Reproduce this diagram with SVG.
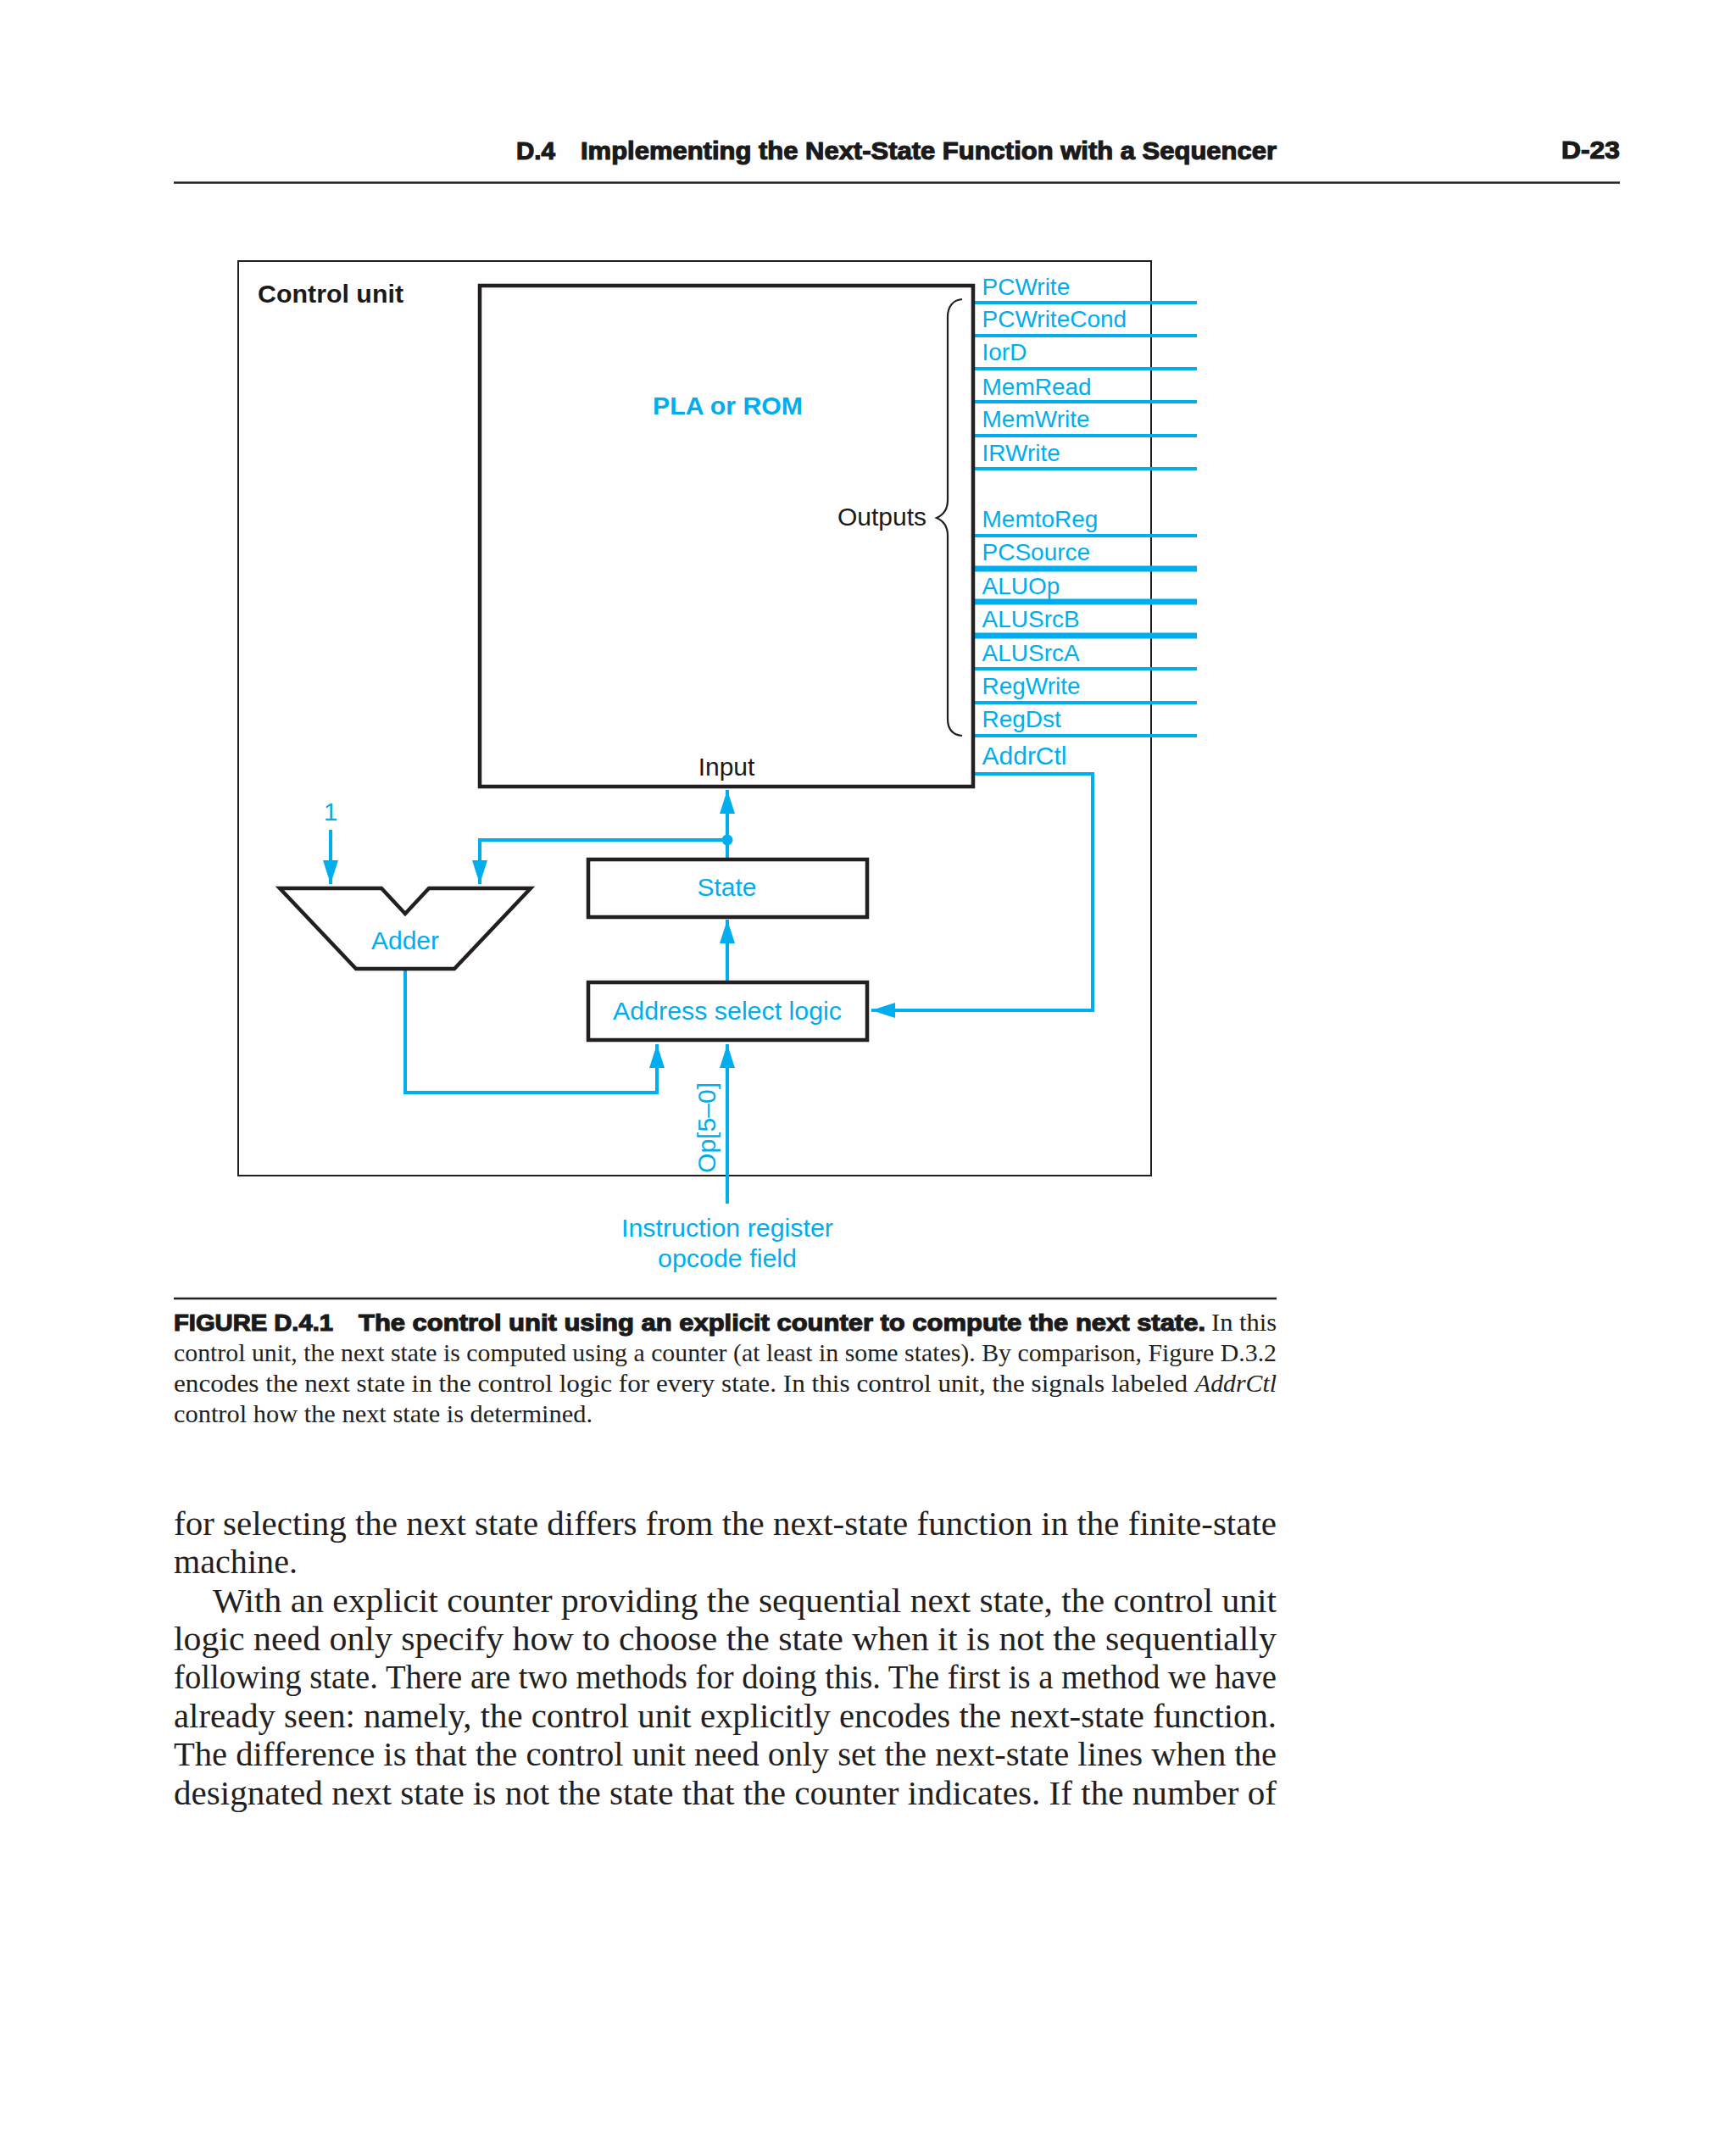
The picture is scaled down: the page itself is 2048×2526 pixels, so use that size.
<svg xmlns="http://www.w3.org/2000/svg" width="2048" height="2526" viewBox="0 0 2048 2526">
<defs>
<marker id="arrow" viewBox="0 0 28 18" refX="28" refY="9" markerWidth="28" markerHeight="18" markerUnits="userSpaceOnUse" orient="auto"><path d="M0 0L28 9L0 18z" fill="#00aeef"/></marker>
</defs>
<style>
text{font-family:"Liberation Sans",Arial,sans-serif}
.c{fill:#00aeef;font-size:30px}
.s{fill:#00aeef;font-size:28px}
.k{fill:#1a1a1a;font-size:30px}
.m{text-anchor:middle}
.b{font-weight:bold}
.box{fill:none;stroke:#231f20;stroke-width:4.5}
.w{fill:none;stroke:#00aeef;stroke-width:4}
.o{stroke:#00aeef;stroke-width:4}
.ok{stroke:#00aeef;stroke-width:7}
.hd{fill:#1a1a1a;font-size:30px;font-weight:bold;stroke:#1a1a1a;stroke-width:1.2}
.cap{font-family:"Liberation Serif",serif;font-size:30px;fill:#231f20}
.body{font-family:"Liberation Serif",serif;font-size:41px;fill:#231f20}
.rule{stroke:#231f20;stroke-width:2.5}
</style>
<rect width="2048" height="2526" fill="#fefefe"/>
<g id="page-header">
<text class="hd" x="609" y="188" textLength="46" lengthAdjust="spacingAndGlyphs">D.4</text>
<text class="hd" x="685" y="188" textLength="821" lengthAdjust="spacingAndGlyphs">Implementing the Next-State Function with a Sequencer</text>
<text class="hd" x="1842" y="187" textLength="69" lengthAdjust="spacingAndGlyphs">D-23</text>
<line class="rule" x1="205" y1="215.500" x2="1911" y2="215.500"/>
</g>
<g id="control-unit">
<rect x="281" y="308" width="1077" height="1079" fill="none" stroke="#231f20" stroke-width="2"/>
<text class="k b" x="304" y="357" textLength="172" lengthAdjust="spacingAndGlyphs">Control unit</text>
</g>
<g id="connectors">
<path class="w" d="M858 1013V932" marker-end="url(#arrow)"/>
<path class="w" d="M858 991H566V1043" marker-end="url(#arrow)"/>
<circle cx="858" cy="991" r="6.500" fill="#00aeef"/>
<path class="w" d="M390 979V1043" marker-end="url(#arrow)"/>
<path class="w" d="M858 1158V1085" marker-end="url(#arrow)"/>
<path class="w" d="M478 1143V1289H775V1232" marker-end="url(#arrow)"/>
<path class="w" d="M858 1420V1232" marker-end="url(#arrow)"/>
<path class="w" d="M1150 913H1289V1192H1028" marker-end="url(#arrow)"/>
<line class="o" x1="1150" y1="357" x2="1412" y2="357"/>
<line class="o" x1="1150" y1="396" x2="1412" y2="396"/>
<line class="o" x1="1150" y1="435" x2="1412" y2="435"/>
<line class="o" x1="1150" y1="474" x2="1412" y2="474"/>
<line class="o" x1="1150" y1="514" x2="1412" y2="514"/>
<line class="o" x1="1150" y1="553" x2="1412" y2="553"/>
<line class="o" x1="1150" y1="632" x2="1412" y2="632"/>
<line class="ok" x1="1150" y1="671" x2="1412" y2="671"/>
<line class="ok" x1="1150" y1="710" x2="1412" y2="710"/>
<line class="ok" x1="1150" y1="750" x2="1412" y2="750"/>
<line class="o" x1="1150" y1="789" x2="1412" y2="789"/>
<line class="o" x1="1150" y1="829" x2="1412" y2="829"/>
<line class="o" x1="1150" y1="868" x2="1412" y2="868"/>
</g>
<g id="pla-rom">
<rect class="box" x="566" y="337" width="582" height="591"/>
<text class="c b m" x="858.500" y="489" textLength="177" lengthAdjust="spacingAndGlyphs">PLA or ROM</text>
<text class="k m" x="857" y="915">Input</text>
<text class="k" x="988" y="620">Outputs</text>
<path d="M1135 353C1124 354 1118 362 1118 374V590C1118 600 1114 607 1105 611C1114 615 1118 622 1118 632V848C1118 860 1124 867 1135 868" fill="none" stroke="#231f20" stroke-width="2.200"/>
</g>
<g id="output-labels">
<text class="s" x="1158.500" y="348">PCWrite</text>
<text class="s" x="1158.500" y="386">PCWriteCond</text>
<text class="s" x="1158.500" y="425">IorD</text>
<text class="s" x="1158.500" y="466">MemRead</text>
<text class="s" x="1158.500" y="504">MemWrite</text>
<text class="s" x="1158.500" y="544">IRWrite</text>
<text class="s" x="1158.500" y="622">MemtoReg</text>
<text class="s" x="1158.500" y="661">PCSource</text>
<text class="s" x="1158.500" y="701">ALUOp</text>
<text class="s" x="1158.500" y="740">ALUSrcB</text>
<text class="s" x="1158.500" y="780">ALUSrcA</text>
<text class="s" x="1158.500" y="819">RegWrite</text>
<text class="s" x="1158.500" y="858">RegDst</text>
<text class="c" x="1158.500" y="902">AddrCtl</text>
</g>
<g id="state">
<rect class="box" x="694" y="1014" width="329" height="68"/>
<text class="c m" x="857.500" y="1057">State</text>
</g>
<g id="address-select">
<rect class="box" x="694" y="1159" width="329" height="68"/>
<text class="c m" x="858" y="1203" textLength="270" lengthAdjust="spacingAndGlyphs">Address select logic</text>
</g>
<g id="adder">
<path class="box" d="M330 1048H450L478 1078L506 1048H626L536 1143H420Z"/>
<text class="c m" x="478" y="1120">Adder</text>
</g>
<g id="signal-labels">
<text class="c m" x="390" y="968">1</text>
<text class="c" transform="translate(844 1384) rotate(-90)" textLength="107" lengthAdjust="spacingAndGlyphs">Op[5–0]</text>
<text class="c m" x="858" y="1459" textLength="250" lengthAdjust="spacingAndGlyphs">Instruction register</text>
<text class="c m" x="858" y="1495" textLength="164" lengthAdjust="spacingAndGlyphs">opcode field</text>
</g>
<g id="caption">
<line class="rule" x1="205" y1="1532" x2="1506" y2="1532"/>
<text class="hd" style="font-size:28px" x="205" y="1570" textLength="188" lengthAdjust="spacingAndGlyphs">FIGURE D.4.1</text>
<text class="hd" style="font-size:28px" x="423" y="1570" textLength="999" lengthAdjust="spacingAndGlyphs">The control unit using an explicit counter to compute the next state.</text>
<text class="cap" x="1429" y="1570" textLength="77" lengthAdjust="spacingAndGlyphs">In this</text>
<text class="cap" x="205" y="1606" textLength="1301" lengthAdjust="spacingAndGlyphs">control unit, the next state is computed using a counter (at least in some states). By comparison, Figure D.3.2</text>
<text class="cap" x="205" y="1642" textLength="1196" lengthAdjust="spacingAndGlyphs">encodes the next state in the control logic for every state. In this control unit, the signals labeled</text>
<text class="cap" style="font-style:italic" x="1410" y="1642" textLength="96" lengthAdjust="spacingAndGlyphs">AddrCtl</text>
<text class="cap" x="205" y="1678" textLength="494" lengthAdjust="spacingAndGlyphs">control how the next state is determined.</text>
</g>
<g id="body-text">
<text class="body" x="205" y="1811" textLength="1301" lengthAdjust="spacingAndGlyphs">for selecting the next state differs from the next-state function in the finite-state</text>
<text class="body" x="205" y="1856" textLength="146" lengthAdjust="spacingAndGlyphs">machine.</text>
<text class="body" x="251" y="1902" textLength="1255" lengthAdjust="spacingAndGlyphs">With an explicit counter providing the sequential next state, the control unit</text>
<text class="body" x="205" y="1947" textLength="1301" lengthAdjust="spacingAndGlyphs">logic need only specify how to choose the state when it is not the sequentially</text>
<text class="body" x="205" y="1992" textLength="1301" lengthAdjust="spacingAndGlyphs">following state. There are two methods for doing this. The first is a method we have</text>
<text class="body" x="205" y="2038" textLength="1301" lengthAdjust="spacingAndGlyphs">already seen: namely, the control unit explicitly encodes the next-state function.</text>
<text class="body" x="205" y="2083" textLength="1301" lengthAdjust="spacingAndGlyphs">The difference is that the control unit need only set the next-state lines when the</text>
<text class="body" x="205" y="2129" textLength="1301" lengthAdjust="spacingAndGlyphs">designated next state is not the state that the counter indicates. If the number of</text>
</g>
</svg>
